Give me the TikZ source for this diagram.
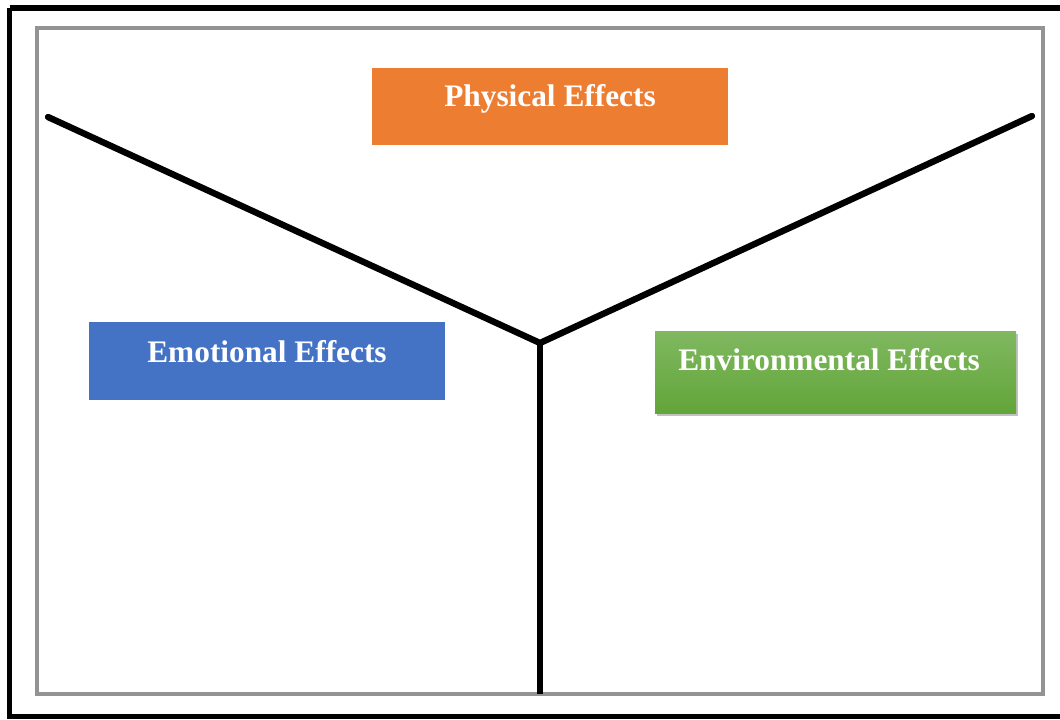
\documentclass[tikz,border=0pt]{standalone}
\usepackage{fontspec}
\setmainfont{Liberation Serif}
\usetikzlibrary{shadows}
\definecolor{physorange}{HTML}{ED7D31}
\definecolor{emoblue}{HTML}{4472C4}
\definecolor{envtop}{HTML}{80B860}
\definecolor{envbot}{HTML}{62A53A}
\begin{document}
\begin{tikzpicture}[x=0.75pt,y=-0.75pt,
  lbl/.style={text=white, font=\fontsize{23.5}{28}\selectfont\bfseries, inner sep=0pt},
  yline/.style={line width=4.8pt, black, line cap=round},
  frame/.style={draw=gray!85, line width=2.3pt}]
\useasboundingbox (0,0) rectangle (1060,719);
\fill[white] (0,0) rectangle (1060,719);
% outer frame
\draw[line width=4.2pt, black] (9.5,8) -- (1070,8);
\draw[line width=4.2pt, black] (9.5,8) -- (9.5,716.5) -- (1070,716.5);
% inner frame
\draw[frame] (37,28) rectangle (1043,694);
% Y shape
\coordinate (tl) at (48,117);
\coordinate (tr) at (1032,116);
\coordinate (j) at (540,343);
\coordinate (b) at (540,694);
\draw[yline] (tl) -- (j) -- (tr);
\draw[line width=4.8pt, black] (j) -- (b);
% boxes
\node[fill=physorange, inner sep=0pt, minimum width=267pt, minimum height=57.75pt] (phys) at (550,106.5) {};
\node[lbl] (physl) at (550,99) {Physical Effects};
\node[fill=emoblue, inner sep=0pt, minimum width=267pt, minimum height=58.5pt] (emo) at (267,361) {};
\node[lbl] (emol) at (267,352) {Emotional Effects};
\node[top color=envtop, bottom color=envbot, inner sep=0pt, minimum width=270.75pt, minimum height=61.5pt,
  drop shadow={shadow xshift=1.5pt, shadow yshift=-2pt, opacity=0.4, fill=black!60}] (env) at (835.5,372) {};
\node[lbl] (envl) at (829,360) {Environmental Effects};
\end{tikzpicture}
\end{document}
